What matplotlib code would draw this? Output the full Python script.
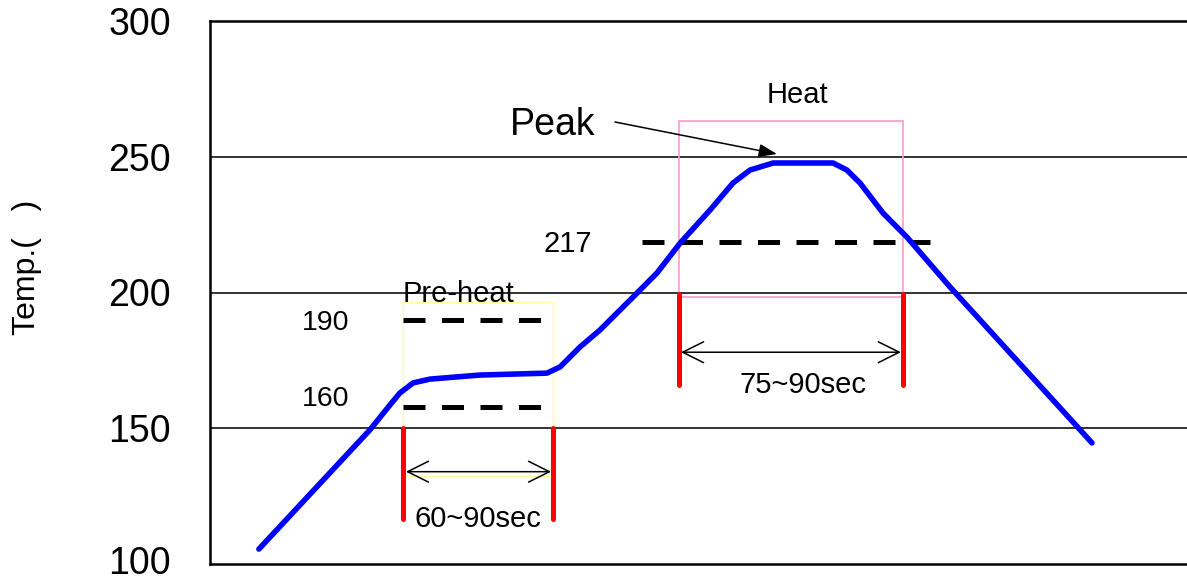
import matplotlib
matplotlib.use("Agg")
import matplotlib.pyplot as plt
import matplotlib.transforms as mtransforms
from matplotlib.patches import Rectangle, FancyArrowPatch

plt.rcParams['font.family'] = ['Liberation Sans', 'DejaVu Sans']

# Reflow profile (time in arbitrary seconds, temperature in deg C)
time = [16.3, 53.3, 60.0, 63.3, 67.7, 73.3, 90.0, 112.3, 116.7, 123.3, 130.0,
        141.0, 149.0, 156.7, 166.7, 174.3, 180.0, 187.7, 207.7, 212.3, 216.7,
        224.3, 232.3, 246.7, 294.0]
temp = [105.5, 149.4, 158.6, 163.0, 166.7, 168.1, 169.6, 170.3, 172.6, 179.9, 186.2,
        198.3, 207.2, 218.2, 230.4, 240.3, 245.1, 247.7, 247.7, 245.1, 240.3,
        229.3, 220.4, 202.0, 144.6]

yticks = [100, 150, 200, 250, 300]
grid_levels = [150, 200, 250]

# Pre-heat zone
pre_t = [64.3, 114.3]
pre_box_temp = [132.4, 196.5]
pre_red_temp = [116.5, 150.0]
pre_dash_t = [64.3, 110.7]
pre_dash_levels = [190.0, 158.0]
pre_arrow_t = [65.3, 113.7]
pre_arrow_temp = 134.0

# Heat zone
heat_t = [156.3, 231.0]
heat_box_temp = [198.5, 263.2]
heat_red_temp = [166.0, 199.5]
liq_dash_t = [144.0, 240.0]
liq_level = 218.6
heat_arrow_t = [157.0, 230.3]
heat_arrow_temp = 178.0

# Peak annotation
peak_text_pos = (114.3, 258.0)
peak_arrow_from = (135.0, 262.8)
peak_arrow_to = (189.0, 251.0)

W, H = 1187, 582
fig = plt.figure(figsize=(W / 100, H / 100), dpi=100)
ax = fig.add_axes([210 / W, 1 - 564 / H, (1200 - 210) / W, (564 - 21) / H])
ax.set_xlim(0, 330)
ax.set_ylim(100, 300)

for s in ['left', 'top', 'bottom']:
    ax.spines[s].set_linewidth(1.8)
    ax.spines[s].set_color('black')
ax.spines['right'].set_visible(False)
ax.set_xticks([])
ax.set_yticks(yticks)
ax.set_yticklabels([str(v) for v in yticks], fontsize=27)
ax.tick_params(axis='y', length=0, pad=28)

# nudge the bottom tick label slightly up so it stays inside the canvas
lbl0 = ax.get_yticklabels()[0]
lbl0.set_transform(lbl0.get_transform() +
                   mtransforms.ScaledTranslation(0, 4 / 100, fig.dpi_scale_trans))

for g in grid_levels:
    ax.axhline(g, color='#111111', lw=1.2, zorder=1)

# boxes
ax.add_patch(Rectangle((pre_t[0], pre_box_temp[0]), pre_t[1] - pre_t[0],
                       pre_box_temp[1] - pre_box_temp[0], fill=False,
                       edgecolor='#ffff99', lw=1.0, zorder=2))
ax.add_patch(Rectangle((heat_t[0], heat_box_temp[0]), heat_t[1] - heat_t[0],
                       heat_box_temp[1] - heat_box_temp[0], fill=False,
                       edgecolor='#ff99cc', lw=1.2, zorder=2))

# dashed levels
dash_kw = dict(color='black', lw=3.6, dashes=(4.4, 3.3), zorder=3)
for lvl in pre_dash_levels:
    ax.plot(pre_dash_t, [lvl, lvl], **dash_kw)
ax.plot(liq_dash_t, [liq_level, liq_level], **dash_kw)

# red time markers
for t in pre_t:
    ax.plot([t, t], pre_red_temp, color='#ff0000', lw=3.6, solid_capstyle='round', zorder=4)
for t in heat_t:
    ax.plot([t, t], heat_red_temp, color='#ff0000', lw=3.6, solid_capstyle='round', zorder=4)

# profile
ax.plot(time, temp, color='#0000ff', lw=4.0, solid_capstyle='round',
        solid_joinstyle='round', zorder=5)

# double arrows
for (t0, t1), yv in [(pre_arrow_t, pre_arrow_temp), (heat_arrow_t, heat_arrow_temp)]:
    ax.add_patch(FancyArrowPatch((t0, yv), (t1, yv),
                                 arrowstyle='<->,head_length=1.5,head_width=0.75',
                                 mutation_scale=10, lw=1.1, color='black',
                                 shrinkA=0, shrinkB=0, zorder=6))

# peak arrow
ax.add_patch(FancyArrowPatch(peak_arrow_from, peak_arrow_to,
                             arrowstyle='-|>,head_length=1.1,head_width=0.4',
                             mutation_scale=10, lw=1.1, color='black',
                             shrinkA=0, shrinkB=0, zorder=6))

# texts
ax.text(peak_text_pos[0], peak_text_pos[1], 'Peak', fontsize=27, ha='center', va='baseline')
ax.text(195.7, 269.8, 'Heat', fontsize=21, ha='center', va='baseline')
ax.text(83.0, 196.6, 'Pre-heat', fontsize=21, ha='center', va='baseline')
ax.text(38.7, 186.2, '190', fontsize=20.5, ha='center', va='baseline')
ax.text(38.7, 158.2, '160', fontsize=20.5, ha='center', va='baseline')
ax.text(119.3, 215.0, '217', fontsize=21, ha='center', va='baseline')
ax.text(89.3, 113.7, '60~90sec', fontsize=21, ha='center', va='baseline')
ax.text(197.7, 163.0, '75~90sec', fontsize=21, ha='center', va='baseline')

fig.text(27 / W, 1 - 267 / H, 'Temp.(   )', fontsize=23, rotation=90,
         ha='center', va='center')

fig.savefig('out.png', dpi=100)
